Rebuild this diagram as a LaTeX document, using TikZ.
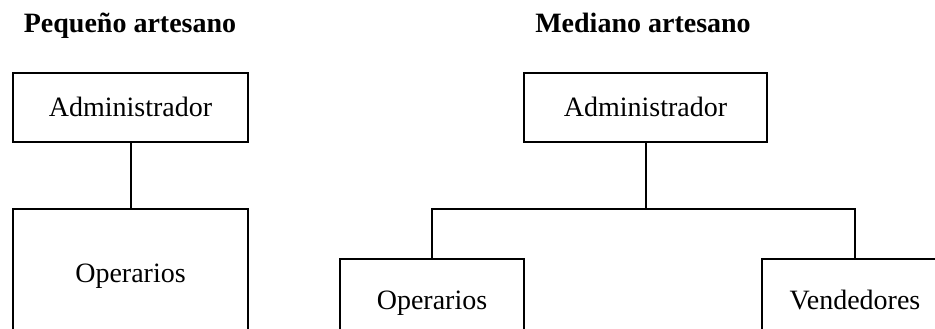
\documentclass[tikz,border=0pt]{standalone}
\usepackage{fontspec}
\setmainfont{Liberation Serif}
\begin{document}
\begin{tikzpicture}[x=1pt,y=-1pt,
  orgbox/.style={draw=black,line width=2pt,inner sep=0pt,minimum width=#1},
  lbl/.style={inner sep=0pt,anchor=base,font=\fontsize{28}{34}\selectfont},
  ttl/.style={inner sep=0pt,anchor=base,font=\fontsize{28}{34}\selectfont\bfseries},
  conn/.style={draw=black,line width=2pt}]
\useasboundingbox (0,0) rectangle (935,329);
\clip (0,0) rectangle (935,329);
\fill[white] (0,0) rectangle (935,329);
% titles
\node[ttl] (t1) at (130,33) {Pequeño artesano};
\node[ttl] (t2) at (643,33) {Mediano artesano};
% boxes
\node[orgbox=235pt,minimum height=69pt] (la) at (130.5,107.5) {};
\node[orgbox=235pt,minimum height=132pt] (lo) at (130.5,275) {};
\node[orgbox=243pt,minimum height=69pt] (ra) at (645.5,107.5) {};
\node[orgbox=184pt,minimum height=86pt] (ro) at (432,302) {};
\node[orgbox=186pt,minimum height=86pt] (rv) at (855,302) {};
% labels
\node[lbl] (la-t) at (130.5,117) {Administrador};
\node[lbl] (lo-t) at (130.5,282) {Operarios};
\node[lbl] (ra-t) at (645.5,117) {Administrador};
\node[lbl] (ro-t) at (432,309) {Operarios};
\node[lbl] (rv-t) at (855,309) {Vendedores};
% connectors
\coordinate (bus) at (645.5,209);
\draw[conn] (la.south) -- (lo.north);
\draw[conn] (ra.south) -- (bus);
\draw[conn] (ro.north) |- (bus) -| (rv.north);
\end{tikzpicture}
\end{document}
